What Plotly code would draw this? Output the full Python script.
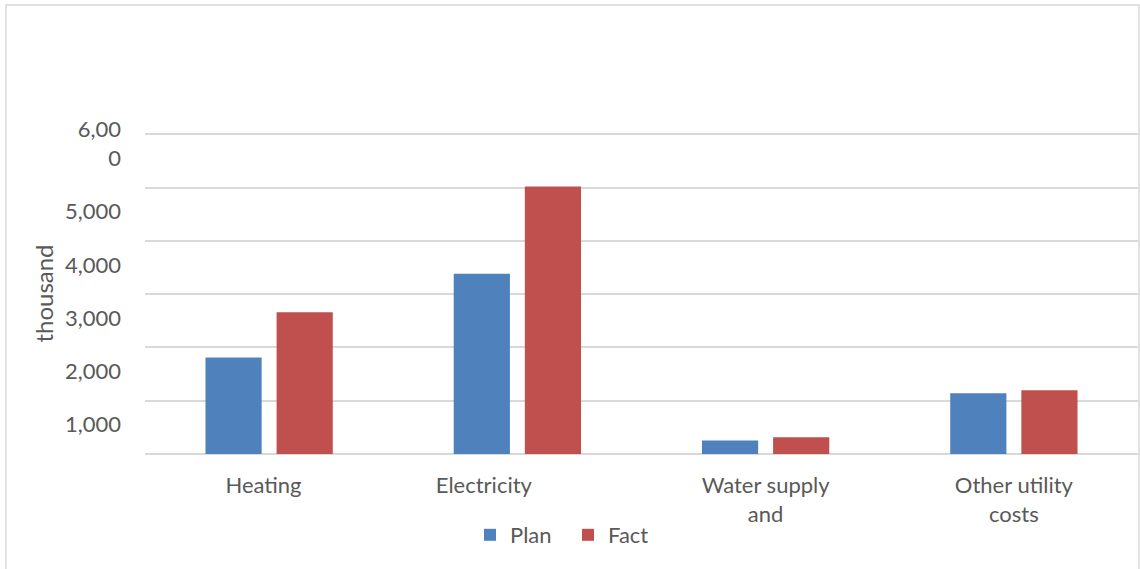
import plotly.graph_objects as go

categories = ["Heating", "Electricity", "Water supply and", "Other utility costs"]
category_labels = ["Heating" + "\u00a0" * 2, "Electricity" + "\u00a0" * 12, "Water supply<br>and", "Other utility<br>costs"]
plan = [1810, 3385, 255, 1140]
fact = [2660, 5020, 315, 1195]
y_tickvals = [1000, 2000, 3000, 4000, 5000, 6000]
y_ticktext = ["1,000", "2,000", "3,000", "4,000", "5,000", "6,00<br>0<br>\u00a0"]
y_top = 6025

W, H = 1140, 569
L, R, T, B = 145, 2, 133, 115
pw = W - L - R
ph = H - T - B

font_family = "Lato, 'Open Sans', sans-serif"
txt_color = "#595959"
grid_color = "#d9d9d9"

fig = go.Figure()
fig.add_trace(go.Bar(x=categories, y=plan, name="Plan", marker=dict(color="#4F81BD", line=dict(width=0))))
fig.add_trace(go.Bar(x=categories, y=fact, name="Fact", marker=dict(color="#C0504D", line=dict(width=0))))

def px_x(p):
    return (p - L) / pw

def px_y(p):
    return (H - B - p) / ph

fig.update_layout(
    width=W, height=H,
    margin=dict(l=L, r=R, t=T, b=B, pad=0, autoexpand=False),
    paper_bgcolor="white", plot_bgcolor="white",
    barmode="group", bargap=0.427, bargroupgap=0.21,
    font=dict(family=font_family, size=22, color=txt_color),
    showlegend=True,
    legend=dict(orientation="h", x=px_x(568), xanchor="center", y=px_y(535), yanchor="middle",
                font=dict(size=22, color=txt_color), itemwidth=30, traceorder="normal",
                entrywidth=53, entrywidthmode="pixels"),
    xaxis=dict(tickmode="array", tickvals=categories, ticktext=category_labels,
               showgrid=False, showline=False, zeroline=False, ticks="",
               automargin=False,
               ticklabelstandoff=16, tickfont=dict(size=22, color=txt_color)),
    yaxis=dict(range=[0, y_top], tickmode="array", tickvals=y_tickvals, ticktext=y_ticktext,
               showgrid=True, gridcolor=grid_color, gridwidth=1.5,
               zeroline=True, zerolinecolor=grid_color, zerolinewidth=1.5,
               showline=False, ticks="", ticklabelstandoff=23, ticklabelshift=24,
               automargin=False,
               tickfont=dict(size=22, color=txt_color),
               title=dict(text="thousand", font=dict(size=24, color=txt_color), standoff=4)),
    shapes=[dict(type="rect", xref="paper", yref="paper",
                 x0=px_x(6), x1=px_x(1139), y0=px_y(600), y1=px_y(5),
                 line=dict(color="#d9d9d9", width=1.5), fillcolor="rgba(0,0,0,0)", layer="below")],
)

fig.write_html("out.html", config={"displayModeBar": False},
               post_script="document.body.style.margin='0px';")
